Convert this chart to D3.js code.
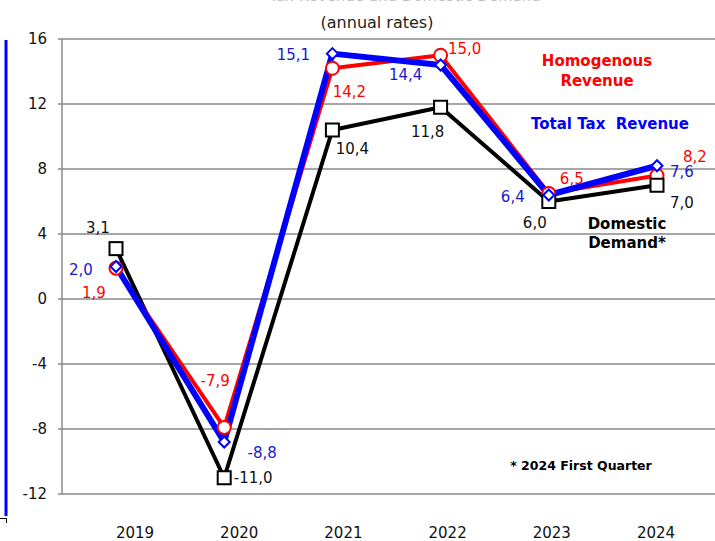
<!DOCTYPE html>
<html lang="en">
<head>
<meta charset="UTF-8">
<title>Tax revenue and domestic demand</title>
<style>
  *{margin:0;padding:0;}
  body{background:#fff;}
  svg{font-family:"DejaVu Sans",Verdana,sans-serif;display:block;}
</style>
</head>
<body>
<div id="container"></div>
<script src="https://cdn.jsdelivr.net/npm/d3@7"></script>
<script>
var years = ["2019","2020","2021","2022","2023","2024"]
var homogenous = [1.9, -7.9, 14.2, 15.0, 6.5, 7.6]
var totalTax = [2.0, -8.8, 15.1, 14.4, 6.4, 8.2]
var domestic = [3.1, -11.0, 10.4, 11.8, 6.0, 7.0]
// printed labels as they appear on the original chart
var homogenousLabels = ["1,9", "-7,9", "14,2", "15,0", "6,5", "8,2"]
var totalTaxLabels = ["2,0", "-8,8", "15,1", "14,4", "6,4", "7,6"]
var domesticLabels = ["3,1", "-11,0", "10,4", "11,8", "6,0", "7,0"]
var yTicks = [-12, -8, -4, 0, 4, 8, 12, 16]

var W = 715, H = 541
var svg = d3.select('#container').append('svg').attr('width', W).attr('height', H)

var y = d3.scaleLinear().domain([-12, 16]).range([494, 39])
var x = d3.scalePoint().domain(years).range([116, 657])
var xLab = d3.scalePoint().domain(years).range([135, 656])

// title (mostly cut off at the top)
svg.append('text').attr('x', 405).attr('y', 0.5).attr('text-anchor', 'middle')
  .attr('font-size', 15).attr('fill', '#bbb')
  .text('Tax Revenue and Domestic Demand')
svg.append('text').attr('x', 377).attr('y', 28).attr('text-anchor', 'middle')
  .attr('font-size', 16).attr('fill', '#222').text('(annual rates)')

// left blue bar
svg.append('line').attr('x1', 6).attr('x2', 6).attr('y1', 40).attr('y2', 516)
  .attr('stroke', '#0000ff').attr('stroke-width', 3)
svg.append('path').attr('d', 'M0,518.5H6.5V523').attr('fill', 'none').attr('stroke', '#000').attr('stroke-width', 1)

// grid
svg.append('g').selectAll('line').data(yTicks).enter().append('line')
  .attr('x1', 58).attr('x2', W)
  .attr('y1', function (d) {return y(d)}).attr('y2', function (d) {return y(d)})
  .attr('stroke', '#888').attr('stroke-width', 1.5)
svg.append('line').attr('x1', 62).attr('x2', 62).attr('y1', y(16)).attr('y2', y(-12))
  .attr('stroke', '#888').attr('stroke-width', 1.5)

svg.append('g').selectAll('text').data(yTicks).enter().append('text')
  .attr('x', 47).attr('y', function (d) {return y(d) + 5})
  .attr('text-anchor', 'end').attr('font-size', 15).attr('fill', '#111')
  .text(function (d) {return d})

svg.append('g').selectAll('text').data(years).enter().append('text')
  .attr('x', function (d) {return xLab(d)}).attr('y', 538)
  .attr('text-anchor', 'middle').attr('font-size', 15).attr('fill', '#111')
  .text(function (d) {return d})

var line = d3.line().x(function (d, i) {return x(years[i])}).y(function (d) {return y(d)})

svg.append('path').datum(domestic).attr('d', line).attr('fill', 'none')
  .attr('stroke', '#000').attr('stroke-width', 4).attr('stroke-linejoin', 'round')
svg.append('path').datum(homogenous).attr('d', line).attr('fill', 'none')
  .attr('stroke', '#ff0000').attr('stroke-width', 4).attr('stroke-linejoin', 'round')
svg.append('path').datum(totalTax).attr('d', line).attr('fill', 'none')
  .attr('stroke', '#0000ff').attr('stroke-width', 6).attr('stroke-linejoin', 'round')

// markers
svg.append('g').selectAll('circle').data(homogenous).enter().append('circle')
  .attr('cx', function (d, i) {return x(years[i])}).attr('cy', function (d) {return y(d)})
  .attr('r', 6.5).attr('fill', '#fff').attr('stroke', '#ff0000').attr('stroke-width', 2)
svg.append('g').selectAll('rect').data(domestic).enter().append('rect')
  .attr('x', function (d, i) {return x(years[i]) - 6.5}).attr('y', function (d) {return y(d) - 6.5})
  .attr('width', 13).attr('height', 13)
  .attr('fill', '#fff').attr('stroke', '#000').attr('stroke-width', 2)
svg.append('g').selectAll('path').data(totalTax).enter().append('path')
  .attr('d', 'M0,-5.5L5.5,0L0,5.5L-5.5,0Z')
  .attr('transform', function (d, i) {return 'translate(' + x(years[i]) + ',' + y(d) + ')'})
  .attr('fill', '#fff').attr('stroke', '#0000ff').attr('stroke-width', 2)

// value labels, offsets of the label centre from each point (layout only)
var domesticOff = [[-18, -21], [29, 0], [20, 18], [-13, 24], [-14, 21], [25, 17]]
var homogenousOff = [[-22, 24], [-9, -47], [17, 23], [24, -7], [23, -15], [38, -19]]
var totalTaxOff = [[-35, 3], [38, 10], [-39, 1], [-35, 9], [-36, 1], [25, 6]]

function labels(vals, texts, offs, colour) {
  svg.append('g').selectAll('text').data(vals).enter().append('text')
    .attr('x', function (d, i) {return x(years[i]) + offs[i][0]})
    .attr('y', function (d, i) {return y(d) + offs[i][1] + 5.5})
    .attr('text-anchor', 'middle').attr('font-size', 15).attr('fill', colour)
    .text(function (d, i) {return texts[i]})
}
labels(domestic, domesticLabels, domesticOff, '#111')
labels(homogenous, homogenousLabels, homogenousOff, '#ff0000')
labels(totalTax, totalTaxLabels, totalTaxOff, '#1a1acc')

// series notes
function note(tx, ty, str, colour, size) {
  svg.append('text').attr('x', tx).attr('y', ty).attr('text-anchor', 'middle')
    .attr('font-size', size).attr('font-weight', 'bold').attr('fill', colour)
    .style('white-space', 'pre').text(str)
}
note(597, 66, 'Homogenous', '#ff0000', 15)
note(597, 86, 'Revenue', '#ff0000', 15)
note(610, 129, 'Total Tax\u00a0 Revenue', '#0000ff', 15)
note(627, 229, 'Domestic', '#000', 15)
note(627, 248, 'Demand*', '#000', 15)
note(581, 470, '* 2024 First Quarter', '#000', 12.5)
</script>
</body>
</html>
